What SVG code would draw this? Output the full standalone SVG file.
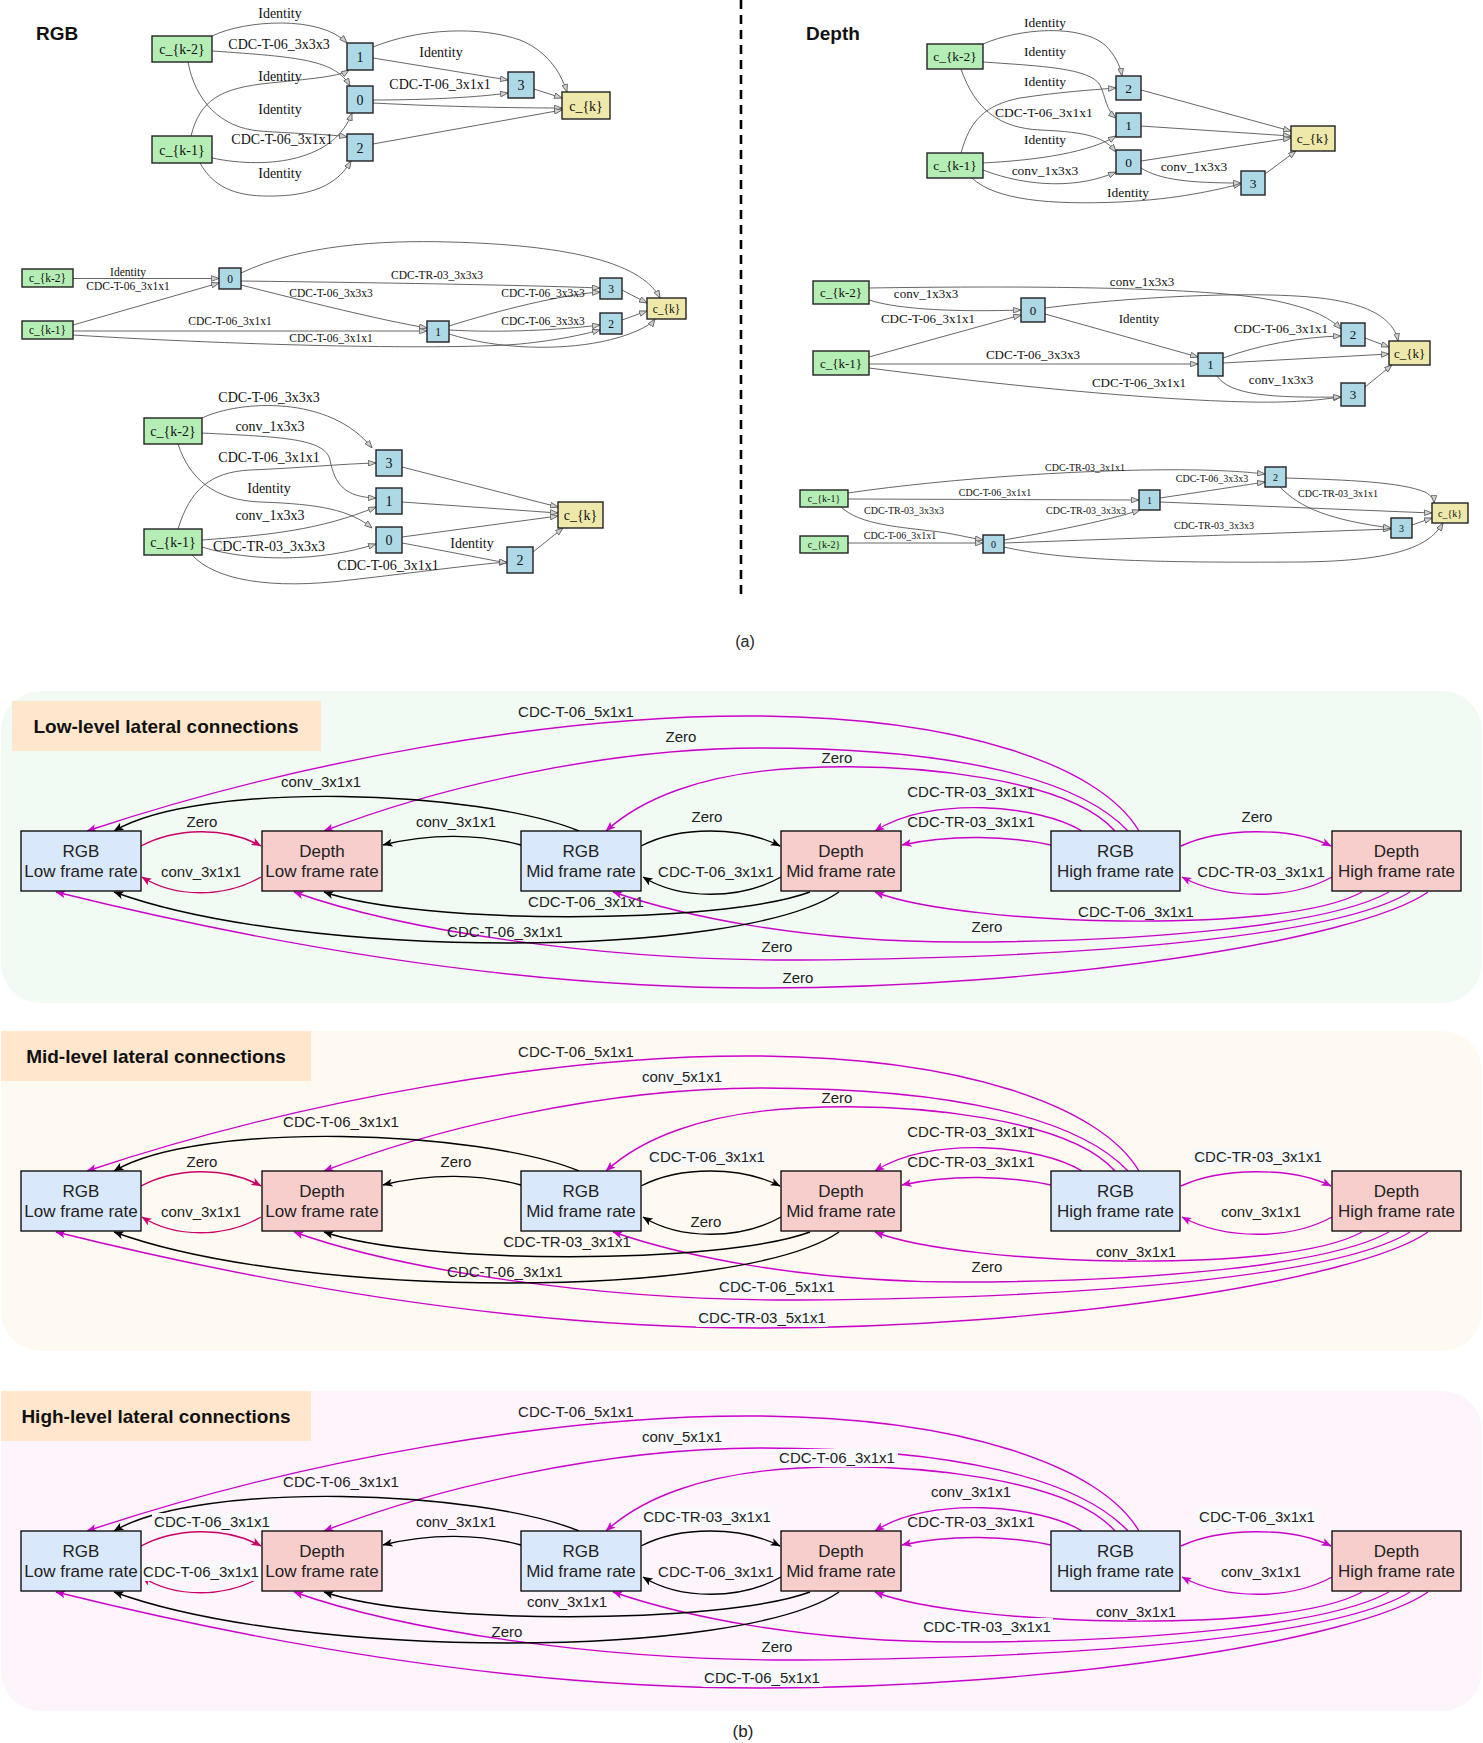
<svg xmlns="http://www.w3.org/2000/svg" width="1483" height="1743" viewBox="0 0 1483 1743">
<defs>
<style>
.sf{font-family:"Liberation Serif","Times New Roman",serif;fill:#111;text-anchor:middle}
.ss{font-family:"Liberation Sans",Arial,sans-serif;fill:#222;text-anchor:middle}
.ttl{font-family:"Liberation Sans",Arial,sans-serif;font-weight:bold;fill:#111}
.cg{fill:#b4eeb4;stroke:#222;stroke-width:1.4}
.cb{fill:#add8e6;stroke:#222;stroke-width:1.4}
.cy{fill:#eee8aa;stroke:#222;stroke-width:1.4}
.ea{fill:none;stroke:#555;stroke-width:0.9;marker-end:url(#ga)}
.nr{fill:#dae8fc;stroke:#000;stroke-width:1.3}
.nd{fill:#f8cecc;stroke:#000;stroke-width:1.3}
.ek{fill:none;stroke:#000;stroke-width:1.4;marker-end:url(#ak)}
.em{fill:none;stroke:#cc00cc;stroke-width:1.4;marker-end:url(#am)}
.ep{fill:none;stroke:#cc0066;stroke-width:1.4;marker-end:url(#ap)}
.lb{fill:#f7f9fa}
.g1{font-size:14px}.g2{font-size:11.5px}.d1{font-size:13.5px}.d2{font-size:13px}.d3{font-size:10px}
.bl{font-size:15px}.bn{font-size:17px}
</style>
<marker id="ga" viewBox="0 0 10 8" refX="10" refY="4" markerWidth="8" markerHeight="6.4" orient="auto" markerUnits="userSpaceOnUse"><path d="M0.5,0.5 L10,4 L0.5,7.5 z" fill="#d0d0d0" stroke="#555" stroke-width="1"/></marker>
<marker id="ak" viewBox="0 0 10 8" refX="9.5" refY="4" markerWidth="10" markerHeight="8" orient="auto" markerUnits="userSpaceOnUse"><path d="M0,0 L10,4 L0,8 L2.5,4 z" fill="#000"/></marker>
<marker id="am" viewBox="0 0 10 8" refX="9.5" refY="4" markerWidth="10" markerHeight="8" orient="auto" markerUnits="userSpaceOnUse"><path d="M0,0 L10,4 L0,8 L2.5,4 z" fill="#cc00cc"/></marker>
<marker id="ap" viewBox="0 0 10 8" refX="9.5" refY="4" markerWidth="10" markerHeight="8" orient="auto" markerUnits="userSpaceOnUse"><path d="M0,0 L10,4 L0,8 L2.5,4 z" fill="#cc0066"/></marker>
</defs>
<rect width="1483" height="1743" fill="#fff"/>

<!-- ===== Part (a) ===== -->
<text class="ttl" x="36" y="40" font-size="19">RGB</text>
<text class="ttl" x="806" y="40" font-size="19">Depth</text>
<line x1="741" y1="0" x2="741" y2="600" stroke="#000" stroke-width="2.6" stroke-dasharray="9,6"/>
<text class="ss" x="745" y="647" font-size="16">(a)</text>

<!-- RGB graph 1 -->
<g id="rgb1">
<g id="rgb1-connectors">
<path class="ea" d="M212,36 C245,20 320,15 347,43"/>
<path class="ea" d="M212,51 C300,57 335,60 350,86"/>
<path class="ea" d="M188,62 C195,100 220,128 260,131 C300,134 330,134 347,137"/>
<path class="ea" d="M191,136 C200,100 220,88 270,83 C320,78 340,76 349,70"/>
<path class="ea" d="M212,158 C270,170 335,160 352,113"/>
<path class="ea" d="M200,163 C215,190 240,197 275,196 C320,195 340,180 351,161"/>
<path class="ea" d="M373,47 C420,28 480,26 520,40 C545,50 560,70 567,92"/>
<path class="ea" d="M373,58 L508,80"/>
<path class="ea" d="M373,100 C430,100 480,97 508,93"/>
<path class="ea" d="M373,103 C450,107 520,108 562,108"/>
<path class="ea" d="M534,89 L562,98"/>
<path class="ea" d="M373,144 L562,110"/>
</g>
<g id="rgb1-labels" class="sf g1">
<text x="280" y="18">Identity</text>
<text x="279" y="49">CDC-T-06_3x3x3</text>
<text x="441" y="57">Identity</text>
<text x="280" y="81">Identity</text>
<text x="440" y="89">CDC-T-06_3x1x1</text>
<text x="280" y="114">Identity</text>
<text x="282" y="144">CDC-T-06_3x1x1</text>
<text x="280" y="178">Identity</text>
</g>
<g id="rgb1-ck2"><rect class="cg" x="152" y="36" width="60" height="26"/><text class="sf g1" x="182" y="54">c_{k-2}</text></g>
<g id="rgb1-ck1"><rect class="cg" x="152" y="136" width="60" height="27"/><text class="sf g1" x="182" y="154.5">c_{k-1}</text></g>
<g id="rgb1-n1"><rect class="cb" x="347" y="43" width="26" height="27"/><text class="sf g1" x="360" y="61.5">1</text></g>
<g id="rgb1-n0"><rect class="cb" x="347" y="86" width="26" height="27"/><text class="sf g1" x="360" y="104.5">0</text></g>
<g id="rgb1-n2"><rect class="cb" x="347" y="134" width="26" height="27"/><text class="sf g1" x="360" y="152.5">2</text></g>
<g id="rgb1-n3"><rect class="cb" x="508" y="72" width="26" height="26"/><text class="sf g1" x="521" y="90">3</text></g>
<g id="rgb1-ck"><rect class="cy" x="562" y="92" width="48" height="27"/><text class="sf g1" x="586" y="110.5">c_{k}</text></g>
</g>

<!-- RGB graph 2 -->
<g id="rgb2">
<g id="rgb2-connectors">
<path class="ea" d="M73,278.5 L219,278.5"/>
<path class="ea" d="M73,325 L219,283"/>
<path class="ea" d="M241,273 C300,245 380,240 450,242 C560,245 640,260 660,298"/>
<path class="ea" d="M241,281 C400,283 520,285 600,288"/>
<path class="ea" d="M241,285 C300,300 380,320 427,328"/>
<path class="ea" d="M449,326 C500,310 560,295 600,292"/>
<path class="ea" d="M449,330 C500,333 560,330 600,325"/>
<path class="ea" d="M449,334 C500,350 560,350 600,342 C630,336 650,326 655,319"/>
<path class="ea" d="M73,331 L427,331"/>
<path class="ea" d="M73,335 C250,346 450,350 520,344 C560,340 585,334 600,330"/>
<path class="ea" d="M622,290 L647,303"/>
<path class="ea" d="M622,320 L647,311"/>
</g>
<g id="rgb2-labels" class="sf g2">
<text x="128" y="276">Identity</text>
<text x="128" y="290">CDC-T-06_3x1x1</text>
<text x="437" y="279">CDC-TR-03_3x3x3</text>
<text x="331" y="297">CDC-T-06_3x3x3</text>
<text x="543" y="297">CDC-T-06_3x3x3</text>
<text x="230" y="325">CDC-T-06_3x1x1</text>
<text x="543" y="325">CDC-T-06_3x3x3</text>
<text x="331" y="342">CDC-T-06_3x1x1</text>
</g>
<g id="rgb2-ck2"><rect class="cg" x="22" y="269" width="51" height="18"/><text class="sf g2" x="47.5" y="282">c_{k-2}</text></g>
<g id="rgb2-ck1"><rect class="cg" x="22" y="321" width="51" height="18"/><text class="sf g2" x="47.5" y="334">c_{k-1}</text></g>
<g id="rgb2-n0"><rect class="cb" x="219" y="268" width="22" height="21"/><text class="sf g2" x="230" y="282.5">0</text></g>
<g id="rgb2-n1"><rect class="cb" x="427" y="321" width="22" height="21"/><text class="sf g2" x="438" y="335.5">1</text></g>
<g id="rgb2-n3"><rect class="cb" x="600" y="278" width="22" height="21"/><text class="sf g2" x="611" y="292.5">3</text></g>
<g id="rgb2-n2"><rect class="cb" x="600" y="313" width="22" height="21"/><text class="sf g2" x="611" y="327.5">2</text></g>
<g id="rgb2-ck"><rect class="cy" x="647" y="298" width="39" height="21"/><text class="sf g2" x="666.5" y="312.5">c_{k}</text></g>
</g>

<!-- RGB graph 3 -->
<g id="rgb3">
<g id="rgb3-connectors">
<path class="ea" d="M202,418 C240,400 330,395 372,448"/>
<path class="ea" d="M202,433 C280,437 325,438 330,460 C335,485 345,497 376,498"/>
<path class="ea" d="M178,444 C190,480 215,500 260,502 C320,504 350,510 372,528"/>
<path class="ea" d="M178,529 C190,490 210,472 250,470 C300,468 340,464 376,463"/>
<path class="ea" d="M202,540 C270,535 320,530 376,507"/>
<path class="ea" d="M202,547 C250,562 320,562 376,544"/>
<path class="ea" d="M192,555 C215,580 270,590 350,580 C420,572 470,565 507,562"/>
<path class="ea" d="M402,467 L558,507"/>
<path class="ea" d="M402,502 L558,513"/>
<path class="ea" d="M402,537 L558,516"/>
<path class="ea" d="M402,543 C440,550 480,558 507,563"/>
<path class="ea" d="M533,552 L563,528"/>
</g>
<g id="rgb3-labels" class="sf g1">
<text x="269" y="402">CDC-T-06_3x3x3</text>
<text x="270" y="431">conv_1x3x3</text>
<text x="269" y="462">CDC-T-06_3x1x1</text>
<text x="269" y="493">Identity</text>
<text x="270" y="520">conv_1x3x3</text>
<text x="269" y="551">CDC-TR-03_3x3x3</text>
<text x="472" y="548">Identity</text>
<text x="388" y="570">CDC-T-06_3x1x1</text>
</g>
<g id="rgb3-ck2"><rect class="cg" x="144" y="418" width="58" height="26"/><text class="sf g1" x="173" y="436">c_{k-2}</text></g>
<g id="rgb3-ck1"><rect class="cg" x="144" y="529" width="58" height="26"/><text class="sf g1" x="173" y="547">c_{k-1}</text></g>
<g id="rgb3-n3"><rect class="cb" x="376" y="450" width="26" height="26"/><text class="sf g1" x="389" y="468">3</text></g>
<g id="rgb3-n1"><rect class="cb" x="376" y="488" width="26" height="26"/><text class="sf g1" x="389" y="506">1</text></g>
<g id="rgb3-n0"><rect class="cb" x="376" y="527" width="26" height="26"/><text class="sf g1" x="389" y="545">0</text></g>
<g id="rgb3-n2"><rect class="cb" x="507" y="547" width="26" height="26"/><text class="sf g1" x="520" y="565">2</text></g>
<g id="rgb3-ck"><rect class="cy" x="558" y="502" width="45" height="26"/><text class="sf g1" x="580.5" y="520">c_{k}</text></g>
</g>

<!-- Depth graph 1 -->
<g id="dep1">
<g id="dep1-connectors">
<path class="ea" d="M983,44 C1020,28 1080,24 1105,45 C1115,55 1120,65 1122,76"/>
<path class="ea" d="M983,62 C1040,66 1090,68 1100,85 C1106,98 1106,110 1116,118"/>
<path class="ea" d="M961,69 C975,110 1000,128 1040,130 C1090,132 1105,138 1116,152"/>
<path class="ea" d="M961,153 C970,120 985,105 1020,98 C1060,92 1090,90 1116,88"/>
<path class="ea" d="M983,163 C1040,160 1090,152 1116,136"/>
<path class="ea" d="M983,170 C1030,188 1080,188 1116,172"/>
<path class="ea" d="M972,178 C995,200 1050,205 1120,202 C1180,199 1215,190 1241,184"/>
<path class="ea" d="M1141,168 C1160,180 1190,183 1241,183"/>
<path class="ea" d="M1141,90 L1291,131"/>
<path class="ea" d="M1141,126 L1291,136"/>
<path class="ea" d="M1141,161 L1291,138"/>
<path class="ea" d="M1265,174 L1296,151"/>
</g>
<g id="dep1-labels" class="sf d1">
<text x="1045" y="27">Identity</text>
<text x="1045" y="56">Identity</text>
<text x="1045" y="86">Identity</text>
<text x="1044" y="117">CDC-T-06_3x1x1</text>
<text x="1045" y="144">Identity</text>
<text x="1045" y="175">conv_1x3x3</text>
<text x="1194" y="171">conv_1x3x3</text>
<text x="1128" y="197">Identity</text>
</g>
<g id="dep1-ck2"><rect class="cg" x="927" y="44" width="56" height="25"/><text class="sf d1" x="955" y="61">c_{k-2}</text></g>
<g id="dep1-ck1"><rect class="cg" x="927" y="153" width="56" height="25"/><text class="sf d1" x="955" y="170">c_{k-1}</text></g>
<g id="dep1-n2"><rect class="cb" x="1116" y="76" width="25" height="24"/><text class="sf d1" x="1128.5" y="92.5">2</text></g>
<g id="dep1-n1"><rect class="cb" x="1116" y="113" width="25" height="24"/><text class="sf d1" x="1128.5" y="129.5">1</text></g>
<g id="dep1-n0"><rect class="cb" x="1116" y="150" width="25" height="24"/><text class="sf d1" x="1128.5" y="166.5">0</text></g>
<g id="dep1-n3"><rect class="cb" x="1241" y="171" width="24" height="24"/><text class="sf d1" x="1253" y="187.5">3</text></g>
<g id="dep1-ck"><rect class="cy" x="1291" y="126" width="44" height="25"/><text class="sf d1" x="1313" y="143">c_{k}</text></g>
</g>

<!-- Depth graph 2 -->
<g id="dep2">
<g id="dep2-connectors">
<path class="ea" d="M869,288 C1000,286 1180,286 1260,298 C1310,306 1330,318 1341,329"/>
<path class="ea" d="M1045,308 C1120,298 1250,290 1320,298 C1380,305 1395,325 1398,341"/>
<path class="ea" d="M869,300 C900,310 960,312 1021,310"/>
<path class="ea" d="M869,357 L1021,315"/>
<path class="ea" d="M869,364 L1198,364"/>
<path class="ea" d="M869,368 C1000,385 1150,400 1250,402 C1300,403 1325,399 1341,397"/>
<path class="ea" d="M1045,314 L1198,357"/>
<path class="ea" d="M1223,358 C1260,345 1300,337 1341,336"/>
<path class="ea" d="M1223,363 L1389,354"/>
<path class="ea" d="M1217,376 C1230,395 1270,398 1341,397"/>
<path class="ea" d="M1365,338 L1389,347"/>
<path class="ea" d="M1365,387 L1392,365"/>
</g>
<g id="dep2-labels" class="sf d2">
<text x="1142" y="286">conv_1x3x3</text>
<text x="926" y="298">conv_1x3x3</text>
<text x="928" y="323">CDC-T-06_3x1x1</text>
<text x="1139" y="323">Identity</text>
<text x="1281" y="333">CDC-T-06_3x1x1</text>
<text x="1033" y="359">CDC-T-06_3x3x3</text>
<text x="1139" y="387">CDC-T-06_3x1x1</text>
<text x="1281" y="384">conv_1x3x3</text>
</g>
<g id="dep2-ck2"><rect class="cg" x="813" y="281" width="56" height="23"/><text class="sf d2" x="841" y="297">c_{k-2}</text></g>
<g id="dep2-ck1"><rect class="cg" x="813" y="351" width="56" height="24"/><text class="sf d2" x="841" y="367.5">c_{k-1}</text></g>
<g id="dep2-n0"><rect class="cb" x="1021" y="298" width="24" height="24"/><text class="sf d2" x="1033" y="314.5">0</text></g>
<g id="dep2-n1"><rect class="cb" x="1198" y="353" width="25" height="23"/><text class="sf d2" x="1210.5" y="369">1</text></g>
<g id="dep2-n2"><rect class="cb" x="1341" y="323" width="24" height="23"/><text class="sf d2" x="1353" y="339">2</text></g>
<g id="dep2-n3"><rect class="cb" x="1341" y="383" width="24" height="23"/><text class="sf d2" x="1353" y="399">3</text></g>
<g id="dep2-ck"><rect class="cy" x="1389" y="341" width="41" height="24"/><text class="sf d2" x="1409.5" y="357.5">c_{k}</text></g>
</g>

<!-- Depth graph 3 -->
<g id="dep3">
<g id="dep3-connectors">
<path class="ea" d="M848,493 C950,478 1100,468 1200,470 C1240,471 1255,473 1265,474"/>
<path class="ea" d="M848,499 L1139,500"/>
<path class="ea" d="M841,507 C860,525 900,527 940,532 C960,535 970,538 983,540"/>
<path class="ea" d="M848,543 L983,543"/>
<path class="ea" d="M1004,540 C1060,530 1110,520 1140,510"/>
<path class="ea" d="M1004,543 L1391,529"/>
<path class="ea" d="M1004,547 C1060,560 1150,563 1300,562 C1400,561 1430,545 1443,523"/>
<path class="ea" d="M1160,498 C1200,492 1240,486 1265,482"/>
<path class="ea" d="M1160,502 L1432,513"/>
<path class="ea" d="M1286,478 C1350,480 1400,482 1425,492 C1432,496 1434,500 1434,503"/>
<path class="ea" d="M1280,487 C1300,508 1330,520 1391,528"/>
<path class="ea" d="M1412,525 L1432,518"/>
</g>
<g id="dep3-labels" class="sf d3">
<text x="1085" y="471">CDC-TR-03_3x1x1</text>
<text x="1212" y="482">CDC-T-06_3x3x3</text>
<text x="995" y="496">CDC-T-06_3x1x1</text>
<text x="1338" y="497">CDC-TR-03_3x1x1</text>
<text x="904" y="514">CDC-TR-03_3x3x3</text>
<text x="1086" y="514">CDC-TR-03_3x3x3</text>
<text x="1214" y="529">CDC-TR-03_3x3x3</text>
<text x="900" y="539">CDC-T-06_3x1x1</text>
</g>
<g id="dep3-ck1"><rect class="cg" x="800" y="490" width="48" height="17"/><text class="sf d3" x="824" y="502">c_{k-1}</text></g>
<g id="dep3-ck2"><rect class="cg" x="800" y="536" width="48" height="17"/><text class="sf d3" x="824" y="548">c_{k-2}</text></g>
<g id="dep3-n0"><rect class="cb" x="983" y="535" width="21" height="18"/><text class="sf d3" x="993.5" y="547.5">0</text></g>
<g id="dep3-n1"><rect class="cb" x="1139" y="490" width="21" height="20"/><text class="sf d3" x="1149.5" y="503.5">1</text></g>
<g id="dep3-n2"><rect class="cb" x="1265" y="467" width="21" height="20"/><text class="sf d3" x="1275.5" y="480.5">2</text></g>
<g id="dep3-n3"><rect class="cb" x="1391" y="518" width="21" height="20"/><text class="sf d3" x="1401.5" y="531.5">3</text></g>
<g id="dep3-ck"><rect class="cy" x="1432" y="503" width="36" height="20"/><text class="sf d3" x="1450" y="516.5">c_{k}</text></g>
</g>

<!-- ===== Part (b) ===== -->
<!-- Low-level -->
<g id="panel-low">
<rect x="1" y="691" width="1481" height="312" rx="40" fill="#f1fbf3"/>
<rect x="12" y="701" width="309" height="50" fill="#ffe6cc"/>
<text class="ttl" x="166" y="733" font-size="19" text-anchor="middle">Low-level lateral connections</text>
<g id="low-connectors">
<path class="em" d="M1139,831 C1100,765 960,718 760,716 C560,714 300,760 87,831"/>
<path class="em" d="M1128,831 C1080,780 960,748 760,748 C600,748 430,790 324,831"/>
<path class="em" d="M1115,831 C1070,780 920,762 800,768 C700,773 640,800 606,831"/>
<path class="em" d="M1082,831 C1040,805 930,795 875,831"/>
<path class="em" d="M1051,845 C1010,836 950,834 902,845"/>
<path class="em" d="M1181,846 C1220,828 1290,826 1331,846"/>
<path class="em" d="M1332,877 C1290,900 1225,900 1182,877"/>
<path class="em" d="M1362,892 C1320,915 1220,922 1120,921 C1030,920 920,910 875,892"/>
<path class="em" d="M1389,892 C1330,925 1150,942 960,942 C800,942 680,915 613,892"/>
<path class="em" d="M1410,892 C1340,935 1100,958 800,960 C600,961 400,930 294,892"/>
<path class="em" d="M1428,892 C1360,940 1050,988 760,988 C500,988 250,940 56,892"/>
<path class="ek" d="M579,831 C480,790 200,780 114,831"/>
<path class="ek" d="M521,845 C480,834 430,833 383,845"/>
<path class="ek" d="M641,846 C680,826 740,826 780,846"/>
<path class="ek" d="M781,877 C740,900 680,900 643,877"/>
<path class="ek" d="M810,892 C720,925 420,925 324,892"/>
<path class="ek" d="M839,892 C740,960 300,960 114,892"/>
<path class="ep" d="M141,846 C175,828 225,826 261,846"/>
<path class="ep" d="M261,877 C225,898 175,898 142,877"/>
</g>
<g id="low-labels" class="ss bl">
<text x="576" y="717">CDC-T-06_5x1x1</text>
<text x="681" y="742">Zero</text>
<text x="837" y="763">Zero</text>
<text x="971" y="797">CDC-TR-03_3x1x1</text>
<text x="971" y="827">CDC-TR-03_3x1x1</text>
<text x="1257" y="822">Zero</text>
<text x="1261" y="877">CDC-TR-03_3x1x1</text>
<text x="1136" y="917">CDC-T-06_3x1x1</text>
<text x="987" y="932">Zero</text>
<text x="777" y="952">Zero</text>
<text x="798" y="983">Zero</text>
<text x="321" y="787">conv_3x1x1</text>
<text x="456" y="827">conv_3x1x1</text>
<text x="707" y="822">Zero</text>
<text x="716" y="877">CDC-T-06_3x1x1</text>
<text x="586" y="907">CDC-T-06_3x1x1</text>
<text x="505" y="937">CDC-T-06_3x1x1</text>
<text x="202" y="827">Zero</text>
<text x="201" y="877">conv_3x1x1</text>
</g>
<g id="low-rgb-low"><rect class="nr" x="21" y="831" width="120" height="60"/><text class="ss bn" x="81" y="857">RGB</text><text class="ss bn" x="81" y="877">Low frame rate</text></g>
<g id="low-depth-low"><rect class="nd" x="262" y="831" width="120" height="60"/><text class="ss bn" x="322" y="857">Depth</text><text class="ss bn" x="322" y="877">Low frame rate</text></g>
<g id="low-rgb-mid"><rect class="nr" x="521" y="831" width="120" height="60"/><text class="ss bn" x="581" y="857">RGB</text><text class="ss bn" x="581" y="877">Mid frame rate</text></g>
<g id="low-depth-mid"><rect class="nd" x="781" y="831" width="120" height="60"/><text class="ss bn" x="841" y="857">Depth</text><text class="ss bn" x="841" y="877">Mid frame rate</text></g>
<g id="low-rgb-high"><rect class="nr" x="1051" y="831" width="129" height="60"/><text class="ss bn" x="1115.5" y="857">RGB</text><text class="ss bn" x="1115.5" y="877">High frame rate</text></g>
<g id="low-depth-high"><rect class="nd" x="1332" y="831" width="129" height="60"/><text class="ss bn" x="1396.5" y="857">Depth</text><text class="ss bn" x="1396.5" y="877">High frame rate</text></g>
</g>

<!-- Mid-level -->
<g id="panel-mid" transform="translate(0,340)">
<rect x="1" y="691" width="1481" height="320" rx="40" fill="#fefaf1"/>
<rect x="1" y="691" width="310" height="50" fill="#ffe6cc"/>
<text class="ttl" x="156" y="723" font-size="19" text-anchor="middle">Mid-level lateral connections</text>
<g id="mid-connectors">
<path class="em" d="M1139,831 C1100,765 960,718 760,716 C560,714 300,760 87,831"/>
<path class="em" d="M1128,831 C1080,780 960,748 760,748 C600,748 430,790 324,831"/>
<path class="em" d="M1115,831 C1070,780 920,762 800,768 C700,773 640,800 606,831"/>
<path class="em" d="M1082,831 C1040,805 930,795 875,831"/>
<path class="em" d="M1051,845 C1010,836 950,834 902,845"/>
<path class="em" d="M1181,846 C1220,828 1290,826 1331,846"/>
<path class="em" d="M1332,877 C1290,900 1225,900 1182,877"/>
<path class="em" d="M1362,892 C1320,915 1220,922 1120,921 C1030,920 920,910 875,892"/>
<path class="em" d="M1389,892 C1330,925 1150,942 960,942 C800,942 680,915 613,892"/>
<path class="em" d="M1410,892 C1340,935 1100,958 800,960 C600,961 400,930 294,892"/>
<path class="em" d="M1428,892 C1360,940 1050,988 760,988 C500,988 250,940 56,892"/>
<path class="ek" d="M579,831 C480,790 200,780 114,831"/>
<path class="ek" d="M521,845 C480,834 430,833 383,845"/>
<path class="ek" d="M641,846 C680,826 740,826 780,846"/>
<path class="ek" d="M781,877 C740,900 680,900 643,877"/>
<path class="ek" d="M810,892 C720,925 420,925 324,892"/>
<path class="ek" d="M839,892 C740,960 300,960 114,892"/>
<path class="ep" d="M141,846 C175,828 225,826 261,846"/>
<path class="ep" d="M261,877 C225,898 175,898 142,877"/>
</g>
<g id="mid-labels" class="ss bl">
<rect class="lb" x="640" y="728" width="84" height="18"/>
<rect class="lb" x="1192" y="808" width="132" height="18"/>
<rect class="lb" x="717" y="938" width="121" height="18"/>
<rect class="lb" x="696" y="969" width="132" height="18"/>
<rect class="lb" x="647" y="808" width="121" height="18"/>
<text x="576" y="717">CDC-T-06_5x1x1</text>
<text x="682" y="742">conv_5x1x1</text>
<text x="837" y="763">Zero</text>
<text x="971" y="797">CDC-TR-03_3x1x1</text>
<text x="971" y="827">CDC-TR-03_3x1x1</text>
<text x="1258" y="822">CDC-TR-03_3x1x1</text>
<text x="1261" y="877">conv_3x1x1</text>
<text x="1136" y="917">conv_3x1x1</text>
<text x="987" y="932">Zero</text>
<text x="777" y="952">CDC-T-06_5x1x1</text>
<text x="762" y="983">CDC-TR-03_5x1x1</text>
<text x="341" y="787">CDC-T-06_3x1x1</text>
<text x="456" y="827">Zero</text>
<text x="707" y="822">CDC-T-06_3x1x1</text>
<text x="706" y="887">Zero</text>
<text x="567" y="907">CDC-TR-03_3x1x1</text>
<text x="505" y="937">CDC-T-06_3x1x1</text>
<text x="202" y="827">Zero</text>
<text x="201" y="877">conv_3x1x1</text>
</g>
<g id="mid-rgb-low"><rect class="nr" x="21" y="831" width="120" height="60"/><text class="ss bn" x="81" y="857">RGB</text><text class="ss bn" x="81" y="877">Low frame rate</text></g>
<g id="mid-depth-low"><rect class="nd" x="262" y="831" width="120" height="60"/><text class="ss bn" x="322" y="857">Depth</text><text class="ss bn" x="322" y="877">Low frame rate</text></g>
<g id="mid-rgb-mid"><rect class="nr" x="521" y="831" width="120" height="60"/><text class="ss bn" x="581" y="857">RGB</text><text class="ss bn" x="581" y="877">Mid frame rate</text></g>
<g id="mid-depth-mid"><rect class="nd" x="781" y="831" width="120" height="60"/><text class="ss bn" x="841" y="857">Depth</text><text class="ss bn" x="841" y="877">Mid frame rate</text></g>
<g id="mid-rgb-high"><rect class="nr" x="1051" y="831" width="129" height="60"/><text class="ss bn" x="1115.5" y="857">RGB</text><text class="ss bn" x="1115.5" y="877">High frame rate</text></g>
<g id="mid-depth-high"><rect class="nd" x="1332" y="831" width="129" height="60"/><text class="ss bn" x="1396.5" y="857">Depth</text><text class="ss bn" x="1396.5" y="877">High frame rate</text></g>
</g>

<!-- High-level -->
<g id="panel-high" transform="translate(0,700)">
<rect x="1" y="691" width="1481" height="320" rx="40" fill="#fdf4fc"/>
<rect x="1" y="691" width="310" height="50" fill="#ffe6cc"/>
<text class="ttl" x="156" y="723" font-size="19" text-anchor="middle">High-level lateral connections</text>
<g id="high-connectors">
<path class="em" d="M1139,831 C1100,765 960,718 760,716 C560,714 300,760 87,831"/>
<path class="em" d="M1128,831 C1080,780 960,748 760,748 C600,748 430,790 324,831"/>
<path class="em" d="M1115,831 C1070,780 920,762 800,768 C700,773 640,800 606,831"/>
<path class="em" d="M1082,831 C1040,805 930,795 875,831"/>
<path class="em" d="M1051,845 C1010,836 950,834 902,845"/>
<path class="em" d="M1181,846 C1220,828 1290,826 1331,846"/>
<path class="em" d="M1332,877 C1290,900 1225,900 1182,877"/>
<path class="em" d="M1362,892 C1320,915 1220,922 1120,921 C1030,920 920,910 875,892"/>
<path class="em" d="M1389,892 C1330,925 1150,942 960,942 C800,942 680,915 613,892"/>
<path class="em" d="M1410,892 C1340,935 1100,958 800,960 C600,961 400,930 294,892"/>
<path class="em" d="M1428,892 C1360,940 1050,988 760,988 C500,988 250,940 56,892"/>
<path class="ek" d="M579,831 C480,790 200,780 114,831"/>
<path class="ek" d="M521,845 C480,834 430,833 383,845"/>
<path class="ek" d="M641,846 C680,826 740,826 780,846"/>
<path class="ek" d="M781,877 C740,900 680,900 643,877"/>
<path class="ek" d="M810,892 C720,925 420,925 324,892"/>
<path class="ek" d="M839,892 C740,960 300,960 114,892"/>
<path class="ep" d="M141,846 C175,828 225,826 261,846"/>
<path class="ep" d="M261,877 C225,898 175,898 142,877"/>
</g>
<g id="high-labels" class="ss bl">
<rect class="lb" x="640" y="728" width="84" height="18"/>
<rect class="lb" x="777" y="749" width="121" height="18"/>
<rect class="lb" x="1197" y="808" width="121" height="18"/>
<rect class="lb" x="921" y="918" width="132" height="18"/>
<rect class="lb" x="760" y="938" width="34" height="18"/>
<rect class="lb" x="702" y="969" width="121" height="18"/>
<rect class="lb" x="641" y="808" width="132" height="18"/>
<rect class="lb" x="152" y="813" width="121" height="18"/>
<rect class="lb" x="141" y="863" width="121" height="18"/>
<text x="576" y="717">CDC-T-06_5x1x1</text>
<text x="682" y="742">conv_5x1x1</text>
<text x="837" y="763">CDC-T-06_3x1x1</text>
<text x="971" y="797">conv_3x1x1</text>
<text x="971" y="827">CDC-TR-03_3x1x1</text>
<text x="1257" y="822">CDC-T-06_3x1x1</text>
<text x="1261" y="877">conv_3x1x1</text>
<text x="1136" y="917">conv_3x1x1</text>
<text x="987" y="932">CDC-TR-03_3x1x1</text>
<text x="777" y="952">Zero</text>
<text x="762" y="983">CDC-T-06_5x1x1</text>
<text x="341" y="787">CDC-T-06_3x1x1</text>
<text x="456" y="827">conv_3x1x1</text>
<text x="707" y="822">CDC-TR-03_3x1x1</text>
<text x="716" y="877">CDC-T-06_3x1x1</text>
<text x="567" y="907">conv_3x1x1</text>
<text x="507" y="937">Zero</text>
<text x="212" y="827">CDC-T-06_3x1x1</text>
<text x="201" y="877">CDC-T-06_3x1x1</text>
</g>
<g id="high-rgb-low"><rect class="nr" x="21" y="831" width="120" height="60"/><text class="ss bn" x="81" y="857">RGB</text><text class="ss bn" x="81" y="877">Low frame rate</text></g>
<g id="high-depth-low"><rect class="nd" x="262" y="831" width="120" height="60"/><text class="ss bn" x="322" y="857">Depth</text><text class="ss bn" x="322" y="877">Low frame rate</text></g>
<g id="high-rgb-mid"><rect class="nr" x="521" y="831" width="120" height="60"/><text class="ss bn" x="581" y="857">RGB</text><text class="ss bn" x="581" y="877">Mid frame rate</text></g>
<g id="high-depth-mid"><rect class="nd" x="781" y="831" width="120" height="60"/><text class="ss bn" x="841" y="857">Depth</text><text class="ss bn" x="841" y="877">Mid frame rate</text></g>
<g id="high-rgb-high"><rect class="nr" x="1051" y="831" width="129" height="60"/><text class="ss bn" x="1115.5" y="857">RGB</text><text class="ss bn" x="1115.5" y="877">High frame rate</text></g>
<g id="high-depth-high"><rect class="nd" x="1332" y="831" width="129" height="60"/><text class="ss bn" x="1396.5" y="857">Depth</text><text class="ss bn" x="1396.5" y="877">High frame rate</text></g>
</g>

<text class="ss" x="743" y="1737" font-size="17">(b)</text>
</svg>
